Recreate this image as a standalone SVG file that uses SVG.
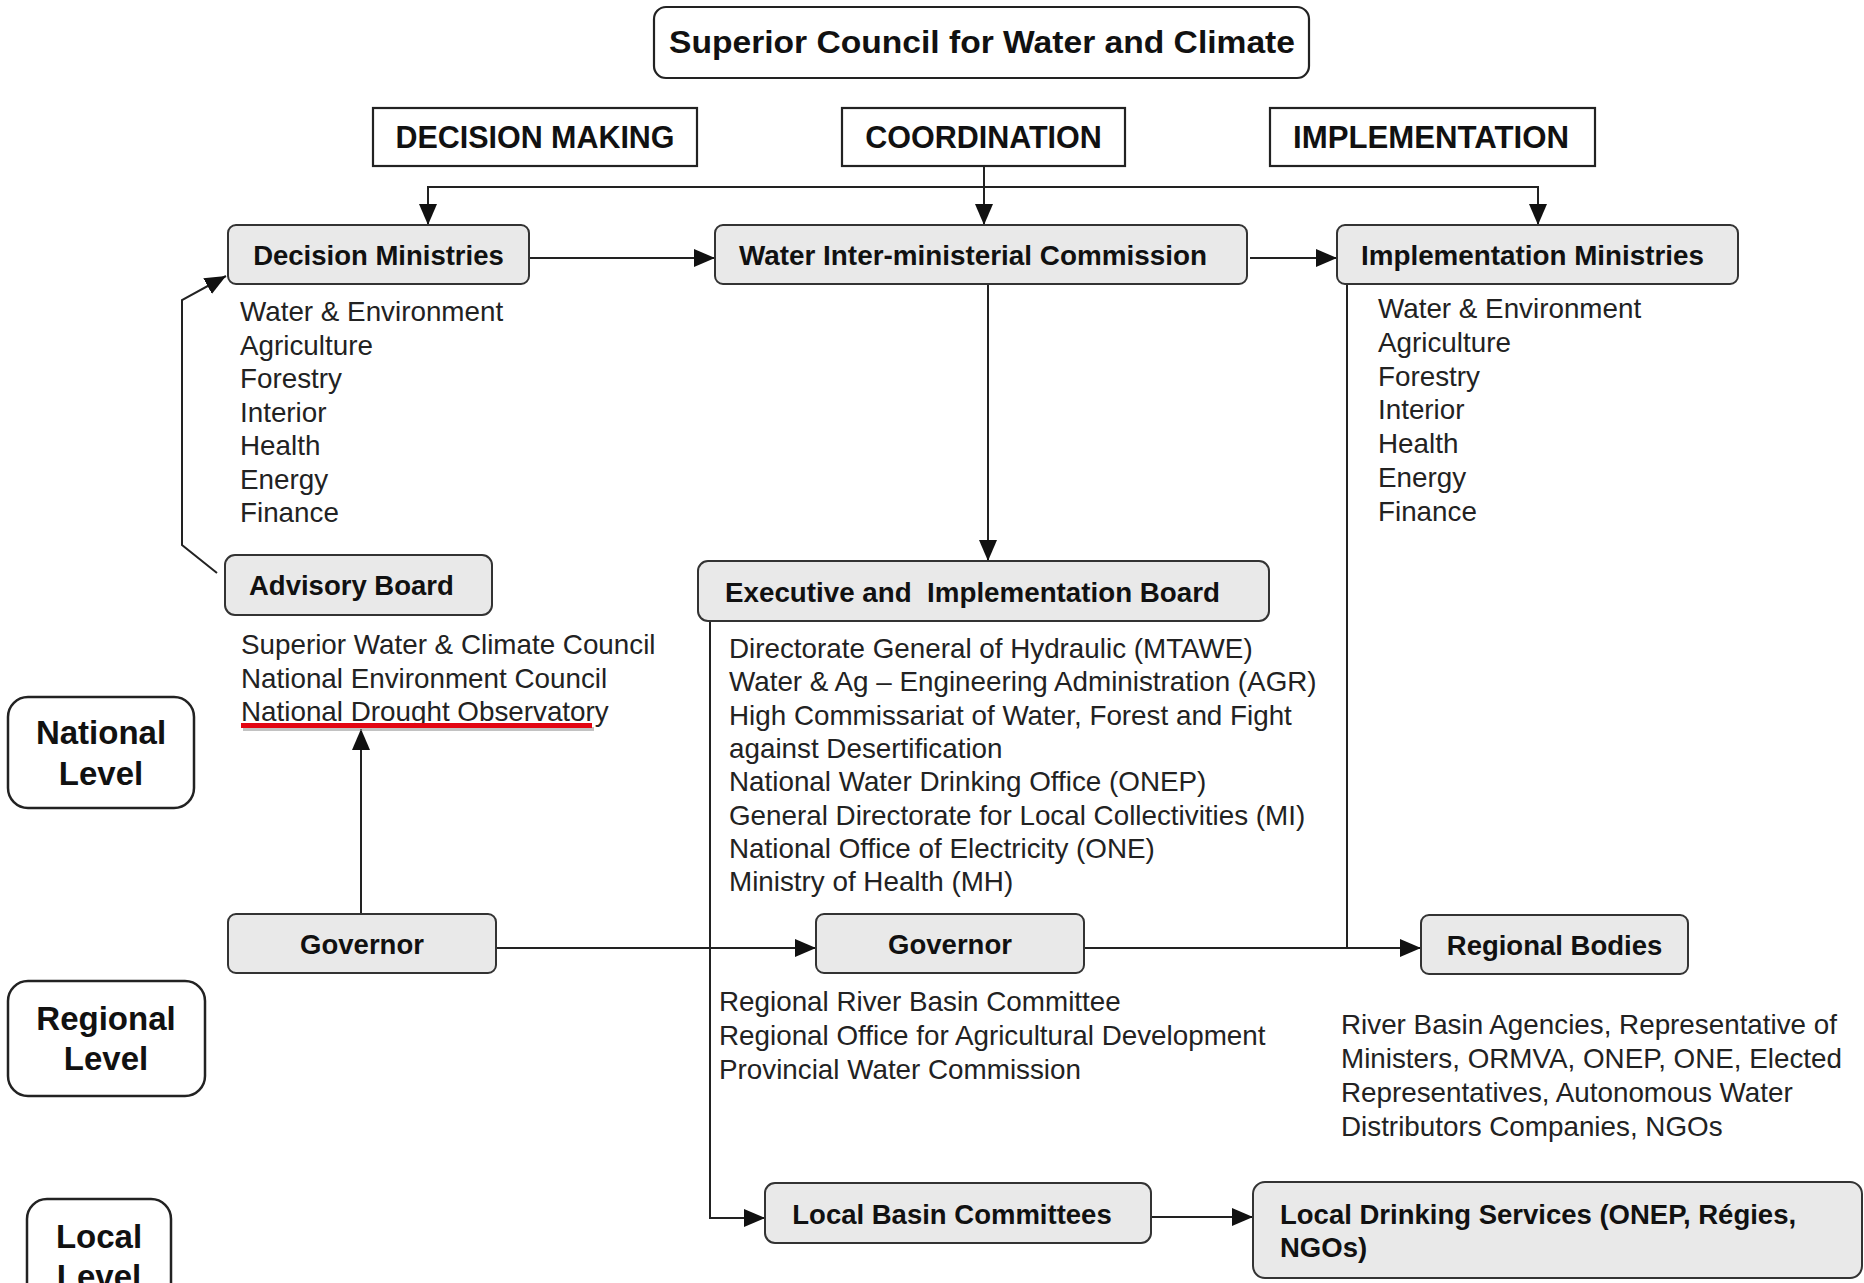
<svg xmlns="http://www.w3.org/2000/svg" width="1864" height="1283" viewBox="0 0 1864 1283">
<style>
  .bg{fill:#ffffff}
  .box{fill:#ffffff;stroke:#222;stroke-width:2.2}
  .gbox{fill:#e9e9e9;stroke:#333;stroke-width:2}
  .lvl{fill:#ffffff;stroke:#222;stroke-width:2.5}
  .t{font-family:"Liberation Sans",Arial,sans-serif;font-weight:bold;font-size:27.5px;fill:#111}
  .h{font-family:"Liberation Sans",Arial,sans-serif;font-weight:bold;font-size:30.5px;fill:#111;text-anchor:middle}
  .lv{font-family:"Liberation Sans",Arial,sans-serif;font-weight:bold;font-size:33px;fill:#111;text-anchor:middle}
  .l{font-family:"Liberation Sans",Arial,sans-serif;font-size:27.8px;fill:#222}
  .c{fill:none;stroke:#222;stroke-width:2}
</style>
<defs>
  <marker id="ah" markerUnits="userSpaceOnUse" markerWidth="22" markerHeight="20" viewBox="0 0 22 20" refX="21" refY="10" orient="auto-start-reverse">
    <path d="M0,1 L21,10 L0,19 Z" fill="#111"/>
  </marker>
</defs>
<rect class="bg" x="0" y="0" width="1864" height="1283"/>

<g id="connectors">
  <path class="c" d="M984,167 V225" marker-end="url(#ah)"/>
  <path class="c" d="M428,225 V187 H1538 V225" marker-start="url(#ah)" marker-end="url(#ah)"/>
  <path class="c" d="M529,258 H715" marker-end="url(#ah)"/>
  <path class="c" d="M1250,258 H1337" marker-end="url(#ah)"/>
  <path class="c" d="M988,284 V561" marker-end="url(#ah)"/>
  <path class="c" d="M217,573 L182,545 V300 L226,276" marker-end="url(#ah)"/>
  <path class="c" d="M361,914 V729" marker-end="url(#ah)"/>
  <path class="c" d="M496,948 H816" marker-end="url(#ah)"/>
  <path class="c" d="M1084,948 H1421" marker-end="url(#ah)"/>
  <path class="c" d="M1347,284 V948"/>
  <path class="c" d="M710,621 V1218 H765" marker-end="url(#ah)"/>
  <path class="c" d="M1151,1217 H1253" marker-end="url(#ah)"/>
</g>

<g id="superior-council">
  <rect class="box" x="654" y="7" width="655" height="71" rx="12"/>
  <text class="h" x="982" y="53" font-size="31" textLength="626" lengthAdjust="spacingAndGlyphs">Superior Council for Water and Climate</text>
</g>
<g id="decision-making">
  <rect class="box" x="373" y="108" width="324" height="58"/>
  <text class="h" x="535" y="148" font-size="29" textLength="279" lengthAdjust="spacingAndGlyphs">DECISION MAKING</text>
</g>
<g id="coordination">
  <rect class="box" x="842" y="108" width="283" height="58"/>
  <text class="h" x="983.5" y="148" font-size="29">COORDINATION</text>
</g>
<g id="implementation">
  <rect class="box" x="1270" y="108" width="325" height="58"/>
  <text class="h" x="1431" y="148" font-size="29" textLength="276" lengthAdjust="spacingAndGlyphs">IMPLEMENTATION</text>
</g>

<g id="decision-ministries">
  <rect class="gbox" x="228" y="225" width="301" height="59" rx="8"/>
  <text class="t" x="378.5" y="265" text-anchor="middle">Decision Ministries</text>
  <text class="l" x="240" y="321">Water &amp; Environment</text>
  <text class="l" x="240" y="354.5">Agriculture</text>
  <text class="l" x="240" y="388">Forestry</text>
  <text class="l" x="240" y="421.5">Interior</text>
  <text class="l" x="240" y="455">Health</text>
  <text class="l" x="240" y="488.5">Energy</text>
  <text class="l" x="240" y="522">Finance</text>
</g>
<g id="water-commission">
  <rect class="gbox" x="715" y="225" width="532" height="59" rx="8"/>
  <text class="t" x="739" y="265" textLength="468" lengthAdjust="spacingAndGlyphs">Water Inter-ministerial Commission</text>
</g>
<g id="implementation-ministries">
  <rect class="gbox" x="1337" y="225" width="401" height="59" rx="8"/>
  <text class="t" x="1361" y="265" textLength="343" lengthAdjust="spacingAndGlyphs">Implementation Ministries</text>
  <text class="l" x="1378" y="318">Water &amp; Environment</text>
  <text class="l" x="1378" y="351.8">Agriculture</text>
  <text class="l" x="1378" y="385.6">Forestry</text>
  <text class="l" x="1378" y="419.4">Interior</text>
  <text class="l" x="1378" y="453.2">Health</text>
  <text class="l" x="1378" y="487">Energy</text>
  <text class="l" x="1378" y="520.8">Finance</text>
</g>

<g id="advisory-board">
  <rect class="gbox" x="225" y="555" width="267" height="60" rx="10"/>
  <text class="t" x="249" y="595">Advisory Board</text>
  <text class="l" x="241" y="654">Superior Water &amp; Climate Council</text>
  <text class="l" x="241" y="688">National Environment Council</text>
  <text class="l" x="241" y="721">National Drought Observatory</text>
  <rect x="243" y="727" width="351" height="4" fill="#999" opacity="0.6"/>
  <rect x="241" y="723" width="351" height="5" fill="#e30613"/>
</g>

<g id="executive-board">
  <rect class="gbox" x="698" y="561" width="571" height="60" rx="10"/>
  <text class="t" x="725" y="602" xml:space="preserve" textLength="495" lengthAdjust="spacingAndGlyphs">Executive and  Implementation Board</text>
  <text class="l" x="729" y="658">Directorate General of Hydraulic (MTAWE)</text>
  <text class="l" x="729" y="691.3">Water &amp; Ag – Engineering Administration (AGR)</text>
  <text class="l" x="729" y="724.6">High Commissariat of Water, Forest and Fight</text>
  <text class="l" x="729" y="757.9">against Desertification</text>
  <text class="l" x="729" y="791.2">National Water Drinking Office (ONEP)</text>
  <text class="l" x="729" y="824.5">General Directorate for Local Collectivities (MI)</text>
  <text class="l" x="729" y="857.8">National Office of Electricity (ONE)</text>
  <text class="l" x="729" y="891">Ministry of Health (MH)</text>
</g>

<g id="national-level">
  <rect class="lvl" x="8" y="697" width="186" height="111" rx="20"/>
  <text class="lv" x="101" y="744">National</text>
  <text class="lv" x="101" y="785">Level</text>
</g>

<g id="governor-left">
  <rect class="gbox" x="228" y="914" width="268" height="59" rx="8"/>
  <text class="t" x="362" y="954" text-anchor="middle">Governor</text>
</g>
<g id="governor-mid">
  <rect class="gbox" x="816" y="914" width="268" height="59" rx="8"/>
  <text class="t" x="950" y="954" text-anchor="middle">Governor</text>
  <text class="l" x="719" y="1011">Regional River Basin Committee</text>
  <text class="l" x="719" y="1045">Regional Office for Agricultural Development</text>
  <text class="l" x="719" y="1079">Provincial Water Commission</text>
</g>
<g id="regional-bodies">
  <rect class="gbox" x="1421" y="915" width="267" height="59" rx="8"/>
  <text class="t" x="1554.5" y="955" text-anchor="middle">Regional Bodies</text>
  <text class="l" x="1341" y="1034">River Basin Agencies, Representative of</text>
  <text class="l" x="1341" y="1068">Ministers, ORMVA, ONEP, ONE, Elected</text>
  <text class="l" x="1341" y="1102">Representatives, Autonomous Water</text>
  <text class="l" x="1341" y="1136">Distributors Companies, NGOs</text>
</g>

<g id="regional-level">
  <rect class="lvl" x="8" y="981" width="197" height="115" rx="20"/>
  <text class="lv" x="106" y="1030">Regional</text>
  <text class="lv" x="106" y="1070">Level</text>
</g>

<g id="local-basin-committees">
  <rect class="gbox" x="765" y="1183" width="386" height="60" rx="10"/>
  <text class="t" x="952" y="1224" text-anchor="middle">Local Basin Committees</text>
</g>
<g id="local-drinking-services">
  <rect class="gbox" x="1253" y="1182" width="609" height="96" rx="12"/>
  <text class="t" x="1280" y="1224">Local Drinking Services (ONEP, Régies,</text>
  <text class="t" x="1280" y="1257">NGOs)</text>
</g>

<g id="local-level">
  <rect class="lvl" x="27" y="1199" width="144" height="120" rx="20"/>
  <text class="lv" x="99" y="1248">Local</text>
  <text class="lv" x="99" y="1288">Level</text>
</g>
</svg>
